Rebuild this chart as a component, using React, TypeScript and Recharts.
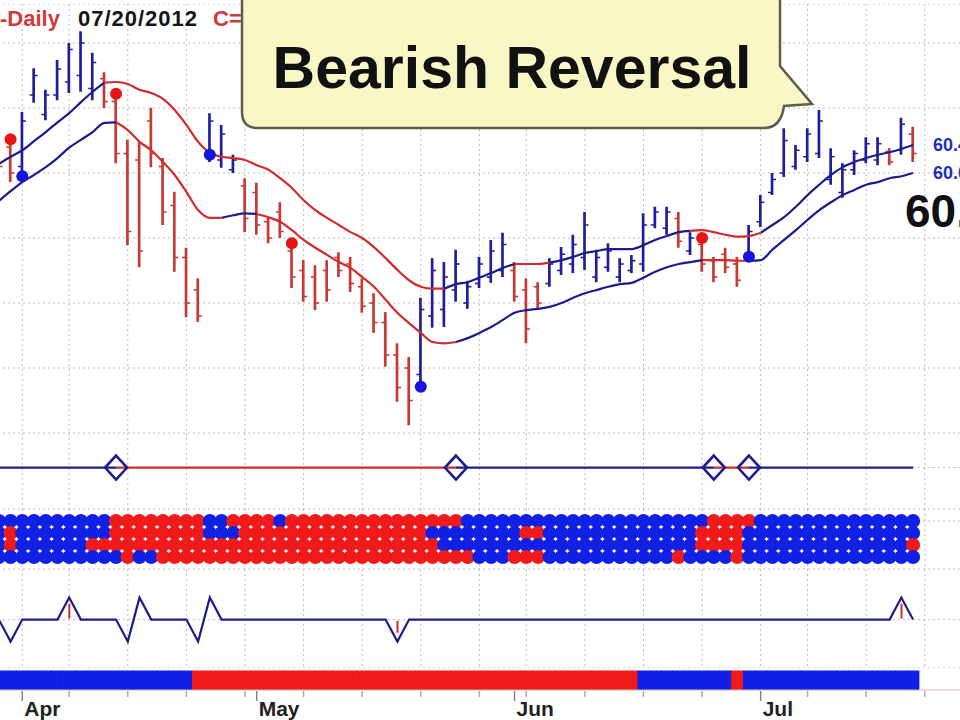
import React from 'react';
import { ComposedChart, Bar, Line, Scatter, XAxis, YAxis, CartesianGrid, Cell, ReferenceDot } from 'recharts';

const FONT = '"Liberation Sans", Arial, sans-serif';
const NAVY = '#1c1c8e';
const LINE_RED = '#d42a2a';
const BAR_BLUE = '#1f1f9c';
const BAR_RED = '#c63a36';
const DOT_RED = '#e81414';
const DOT_BLUE = '#1414e0';
const MAT_BLUE = '#1020e4';
const MAT_RED = '#f01a1a';
const GRID = '#bcbcbc';

// ---- data (trading days Mar 29 .. Jul 20, 2012; index 0..78) ----
const highs = [60.81,60.51,60.94,61.61,61.28,61.74,62.00,62.18,61.85,61.55,
  61.20,60.51,60.48,61.00,60.23,59.71,58.85,58.38,60.92,60.74,
  60.28,59.92,59.85,59.32,59.55,58.92,58.66,58.58,58.66,58.78,
  58.71,58.38,58.15,57.86,57.38,57.17,58.08,58.69,58.63,58.82,
  58.34,58.71,58.97,59.08,58.63,58.38,58.32,58.69,58.86,59.05,
  59.40,58.82,58.92,58.69,58.74,59.38,59.48,59.48,59.40,59.09,
  59.00,58.71,58.85,58.71,59.20,59.66,60.00,60.69,60.43,60.69,
  60.97,60.38,60.15,60.35,60.55,60.55,60.38,60.85,60.71];
const lows = [59.97,59.86,59.94,61.08,60.81,61.12,61.23,61.25,61.12,61.00,
  60.15,58.89,58.55,60.09,59.20,58.48,57.78,57.71,60.17,60.08,
  60.00,59.09,59.05,58.92,59.00,58.23,58.02,57.89,58.02,58.40,
  58.17,57.85,57.54,57.02,56.48,56.12,56.69,57.62,57.63,58.02,
  57.91,58.23,58.31,58.40,58.02,57.38,57.92,58.25,58.43,58.46,
  58.51,58.32,58.48,58.32,58.46,58.48,59.15,59.05,58.85,58.74,
  58.48,58.32,58.46,58.25,58.63,59.17,59.66,59.94,60.05,60.17,
  60.23,59.82,59.62,59.97,60.15,60.12,60.12,60.28,60.17];
const opens = [60.6,60.4,60.1,61.2,60.9,61.2,61.4,61.5,61.3,61.45,
  61.1,60.3,60.2,60.8,60.1,59.5,58.7,58.2,60.3,60.2,
  60.05,59.8,59.7,59.25,59.4,58.8,58.5,58.4,58.5,58.7,
  58.6,58.25,58.0,57.7,57.2,57.0,56.9,57.8,57.9,58.2,
  58.0,58.3,58.4,58.5,58.5,58.2,58.25,58.3,58.5,58.6,
  58.7,58.4,58.55,58.4,58.5,58.6,59.2,59.15,59.3,58.8,
  58.9,58.65,58.75,58.6,58.7,59.25,59.7,60.0,60.1,60.25,
  60.3,59.9,59.7,60.05,60.2,60.2,60.33,60.35,60.6];
const closes = [60.1,60.0,60.8,61.5,61.2,61.6,61.9,62.0,61.7,61.1,
  60.3,59.1,58.8,60.3,59.4,58.7,58.0,57.8,60.8,60.6,
  60.2,59.3,59.2,59.0,59.1,58.4,58.1,58.0,58.2,58.5,
  58.3,57.95,57.7,57.2,56.7,56.5,57.9,58.5,58.4,58.6,
  58.25,58.6,58.8,58.9,58.1,57.6,58.0,58.6,58.75,58.9,
  59.2,58.7,58.8,58.6,58.65,59.2,59.4,59.4,58.95,59.0,
  58.6,58.4,58.55,58.35,59.1,59.55,59.9,60.5,60.35,60.6,
  60.8,60.25,60.05,60.3,60.45,60.45,60.17,60.75,60.3];
const barDir = 'RRBBBBBBBRRRRRRRRRBBBRRRRRRRRRRRRRRRBBBBBBBBRRRBBBBBBBBBBBRBRRRRBBBBBBBBBBBBRBR';

const upper = [60.14,60.25,60.35,60.49,60.63,60.78,60.92,61.09,61.25,61.39,
  61.40,61.37,61.28,61.23,61.14,60.97,60.74,60.48,60.31,60.25,
  60.23,60.20,60.12,60.05,59.92,59.77,59.58,59.43,59.31,59.20,
  59.09,59.00,58.86,58.69,58.51,58.35,58.25,58.22,58.22,58.29,
  58.32,58.39,58.46,58.54,58.60,58.60,58.60,58.62,58.66,58.71,
  58.77,58.80,58.83,58.83,58.83,58.89,58.97,59.03,59.09,59.11,
  59.12,59.09,59.05,59.02,59.03,59.08,59.20,59.32,59.48,59.66,
  59.82,59.97,60.09,60.17,60.23,60.28,60.32,60.37,60.43];
const lower = [59.57,59.72,59.86,59.97,60.09,60.23,60.39,60.51,60.63,60.77,
  60.78,60.66,60.48,60.35,60.17,59.97,59.71,59.43,59.31,59.31,
  59.35,59.38,59.37,59.32,59.25,59.12,58.97,58.85,58.74,58.63,
  58.54,58.40,58.25,58.05,57.85,57.69,57.54,57.40,57.38,57.40,
  57.46,57.54,57.63,57.74,57.85,57.89,57.91,57.94,58.00,58.08,
  58.15,58.20,58.25,58.29,58.31,58.39,58.48,58.55,58.60,58.63,
  58.66,58.66,58.66,58.65,58.65,58.66,58.82,58.97,59.12,59.28,
  59.43,59.55,59.66,59.74,59.82,59.86,59.92,59.95,60.00];
const upperRed = [[9, 38], [44, 47], [59, 65]];
const lowerRed = [[10, 19], [22, 39], [60, 64]];

const redDots = [{ i: 1, v: 60.52 }, { i: 10, v: 61.22 }, { i: 25, v: 58.92 }, { i: 60, v: 59.0 }];
const blueDots = [{ i: 2, v: 59.95 }, { i: 18, v: 60.28 }, { i: 36, v: 56.71 }, { i: 64, v: 58.71 }];

const signalRed = [[10, 39], [61, 64]];
const signalDiamonds = [10, 39, 61, 64];

const matrixRows = [
  'BBBBBBBBBBRRRRRRRRBBRRRRBRRRRRRRRRRRRRRRBBBBBBBBBBBBBBBBBBBBBRRRRBBBBBBBBBBBBBB',
  'BRBBBBBBBBRRRRRRRRBBBRRRRRRRRRRRRRRRRBBBBBBBBRRBBBBBBBBBBBBBRRRRBBBBBBBBBBBBBBB',
  'BRBBBBBBRRRRRRRRRRRRRRRRRRRRRRRRRRRRRRBBBBBBBBBBBBBBBBBBBBBBRRRRBBBBBBBBBBBBBBR',
  'BBBBBBBBBBBRBBRRRRRRRRRRRRRRRRRRRRRRRRRRRBBBRRRBBBBBBBBBBBRBBBBRBBBBBBBBBBBBBBB',
];

const zigzag = [0,-1,0,0,0,0,1,0,0,0, 0,-1,1,0,0,0,0,-1,1,0,
  0,0,0,0,0,0,0,0,0,0, 0,0,0,0,-1,0,0,0,0,0,
  0,0,0,0,0,0,0,0,0,0, 0,0,0,0,0,0,0,0,0,0,
  0,0,0,0,0,0,0,0,0,0, 0,0,0,0,0,0,0,1,0];
const zigMarks = [6, 34, 77];

const trendBand = 'BBBBBBBBBBBBBBBBBRRRRRRRRRRRRRRRRRRRRRRRRRRRRRRRRRRRRRRBBBBBBBBRBBBBBBBBBBBBBBB';

const weekTicks = [2, 6, 11, 16, 21, 26, 31, 36, 41, 45, 50, 55, 60, 65, 69, 74, 79];
const monthTicks = [{ i: 2, label: 'Apr' }, { i: 22, label: 'May' }, { i: 44, label: 'Jun' }, { i: 65, label: 'Jul' }];
const axisTicks = [2, 6, 11, 16, 21, 22, 26, 31, 36, 41, 44, 45, 50, 55, 60, 65, 69, 74, 79];
const priceTicks = [56, 57, 58, 59, 60, 61, 62];

// ---- derived tables ----
const inRange = (i: number, r: number[][]) => r.some(([a, b]) => i >= a && i <= b);
const inside = (i: number, r: number[][]) => r.some(([a, b]) => i > a && i < b);

const mainData = highs.map((h, i) => ({
  i,
  hl: [lows[i], h],
  high: h, low: lows[i], open: opens[i], close: closes[i], dir: barDir[i],
  upR: inRange(i, upperRed) ? upper[i] : null,
  upB: inside(i, upperRed) ? null : upper[i],
  loR: inRange(i, lowerRed) ? lower[i] : null,
  loB: inside(i, lowerRed) ? null : lower[i],
}));

const signalData = highs.map((_, i) => ({
  i,
  sR: inRange(i, signalRed) ? 0 : null,
  sB: inside(i, signalRed) ? null : 0,
}));
const diamondData = signalDiamonds.map((i) => ({ i, v: 0 }));

const matrixData = matrixRows.map((row, r) => row.split('').map((s, i) => ({ i, v: 4 - r, s })));

const zigData = zigzag.map((z, i) => ({
  i, z,
  mark: zigMarks.includes(i) ? (z > 0 ? [0.05, 0.72] : [-0.6, -0.05]) : null,
}));

const bandData = trendBand.split('').map((s, i) => ({ i, one: 1, s }));

// ---- geometry ----
const X0 = -7.3;
const W = 972.8;
const M = { top: 0, right: 0, bottom: 0, left: 0 };
const XDOM: [number, number] = [-0.5, 82.5];

const OhlcShape = (props: any) => {
  const { x, y, width, height, index } = props;
  const d = props.payload && props.payload.high !== undefined ? props.payload : mainData[index];
  if (!d || x == null || y == null) return null;
  const cx = x + width / 2;
  const top = Math.min(y, y + height);
  const h = Math.abs(height);
  const span = d.high - d.low;
  const yO = top + ((d.high - d.open) / span) * h;
  const yC = top + ((d.high - d.close) / span) * h;
  const col = d.dir === 'R' ? BAR_RED : BAR_BLUE;
  return (
    <g>
      <line x1={cx} x2={cx} y1={top} y2={top + h} stroke={col} strokeWidth={2.7} />
      <line x1={cx - 4} x2={cx} y1={yO} y2={yO} stroke={col} strokeWidth={1.6} />
      <line x1={cx} x2={cx + 4} y1={yC} y2={yC} stroke={col} strokeWidth={1.6} />
    </g>
  );
};

const dotShape = (fill: string) => (p: any) => <circle cx={p.cx} cy={p.cy} r={6} fill={fill} />;
const diamondShape = (p: any) => (
  <polygon
    points={`${p.cx},${p.cy - 12} ${p.cx + 11},${p.cy} ${p.cx},${p.cy + 12} ${p.cx - 11},${p.cy}`}
    fill="none" stroke={NAVY} strokeWidth={2.6} />
);
const matrixShape = (p: any) => (
  <circle cx={p.cx} cy={p.cy} r={7.1} fill={p.payload && p.payload.s === 'R' ? MAT_RED : MAT_BLUE} />
);
const valueLabel = (txt: string) => (p: any) => (
  <text x={p.cx} y={p.cy} dy={6} fontSize={18} fontWeight="bold" fill="#2030b8" fontFamily={FONT}>{txt}</text>
);

const AxisTick = (props: any) => {
  const { x, y, payload } = props;
  const m = monthTicks.find((t) => t.i === payload.value);
  return (
    <g>
      <line x1={x} x2={x} y1={y + 1} y2={y + (m ? 11 : 7)} stroke={m ? '#8f8080' : '#b4a8a8'} strokeWidth={1.5} />
      {m && (
        <text x={x + 2} y={y + 26} fontSize={21} fontWeight="bold" fill="#222" fontFamily={FONT}>{m.label}</text>
      )}
    </g>
  );
};

const pos = (top: number, height: number): React.CSSProperties => ({ position: 'absolute', left: X0, top, width: W, height });

export default function App() {
  return (
    <div style={{ position: 'absolute', left: 0, top: 0, width: 960, height: 720, overflow: 'hidden', background: '#fff', fontFamily: FONT }}>
      {/* price panel */}
      <div style={pos(4, 429)}>
        <ComposedChart width={W} height={429} data={mainData} margin={M}>
          <CartesianGrid stroke={GRID} strokeDasharray="2 3" />
          <XAxis type="number" dataKey="i" domain={XDOM} ticks={weekTicks} hide allowDataOverflow />
          <YAxis type="number" domain={[56, 62.6]} ticks={priceTicks} hide allowDataOverflow />
          <Bar dataKey="hl" barSize={3} shape={OhlcShape} isAnimationActive={false} />
          <Line type="monotone" dataKey="upB" stroke={NAVY} strokeWidth={2.2} dot={false} isAnimationActive={false} />
          <Line type="monotone" dataKey="upR" stroke={LINE_RED} strokeWidth={2.2} dot={false} isAnimationActive={false} />
          <Line type="monotone" dataKey="loB" stroke={NAVY} strokeWidth={2.2} dot={false} isAnimationActive={false} />
          <Line type="monotone" dataKey="loR" stroke={LINE_RED} strokeWidth={2.2} dot={false} isAnimationActive={false} />
          <Scatter data={redDots} dataKey="v" shape={dotShape(DOT_RED)} isAnimationActive={false} />
          <Scatter data={blueDots} dataKey="v" shape={dotShape(DOT_BLUE)} isAnimationActive={false} />
          <ReferenceDot x={79.7} y={upper[upper.length - 1]} r={1} ifOverflow="visible" shape={valueLabel(upper[upper.length - 1].toFixed(2))} />
          <ReferenceDot x={79.7} y={lower[lower.length - 1]} r={1} ifOverflow="visible" shape={valueLabel(lower[lower.length - 1].toFixed(2))} />
        </ComposedChart>
      </div>

      {/* signal line panel */}
      <div style={pos(433, 76)}>
        <ComposedChart width={W} height={76} data={signalData} margin={M}>
          <CartesianGrid stroke={GRID} strokeDasharray="2 3" />
          <XAxis type="number" dataKey="i" domain={XDOM} ticks={weekTicks} hide allowDataOverflow />
          <YAxis type="number" domain={[-1.2, 1]} ticks={[0]} hide allowDataOverflow />
          <Line type="linear" dataKey="sB" stroke={NAVY} strokeWidth={2.2} dot={false} isAnimationActive={false} />
          <Line type="linear" dataKey="sR" stroke={LINE_RED} strokeWidth={2.2} dot={false} isAnimationActive={false} />
          <Scatter data={diamondData} dataKey="v" shape={diamondShape} isAnimationActive={false} />
        </ComposedChart>
      </div>

      {/* dot matrix panel */}
      <div style={pos(509, 60)}>
        <ComposedChart width={W} height={60} data={mainData} margin={M}>
          <CartesianGrid stroke={GRID} strokeDasharray="2 3" />
          <XAxis type="number" dataKey="i" domain={XDOM} ticks={weekTicks} hide allowDataOverflow />
          <YAxis type="number" domain={[0, 5]} ticks={[4]} hide allowDataOverflow />
          {matrixData.map((rows, r) => (
            <Scatter key={r} data={rows} dataKey="v" shape={matrixShape} isAnimationActive={false} />
          ))}
        </ComposedChart>
      </div>

      {/* zigzag panel */}
      <div style={pos(569, 99)}>
        <ComposedChart width={W} height={99} data={zigData} margin={M}>
          <CartesianGrid stroke={GRID} strokeDasharray="2 3" />
          <XAxis type="number" dataKey="i" domain={XDOM} ticks={weekTicks} hide allowDataOverflow />
          <YAxis type="number" domain={[-2.2, 2.3]} ticks={[0]} hide allowDataOverflow />
          <Bar dataKey="mark" barSize={2} fill={LINE_RED} isAnimationActive={false} />
          <Line type="linear" dataKey="z" stroke={NAVY} strokeWidth={2.2} dot={false} isAnimationActive={false} />
        </ComposedChart>
      </div>

      {/* trend band + date axis */}
      <div style={pos(668, 52)}>
        <ComposedChart width={W} height={52} data={bandData} margin={M}>
          <XAxis type="number" dataKey="i" domain={XDOM} ticks={axisTicks} interval={0} height={30}
            tickSize={0} tickMargin={0} tickLine={false} axisLine={{ stroke: '#d4b4b4' }} tick={<AxisTick />} allowDataOverflow />
          <YAxis type="number" domain={[0, 1.2]} hide allowDataOverflow />
          <Bar dataKey="one" barSize={10} isAnimationActive={false}>
            {bandData.map((d) => {
              const c = d.s === 'R' ? MAT_RED : MAT_BLUE;
              return <Cell key={d.i} fill={c} stroke={c} strokeWidth={2.4} />;
            })}
          </Bar>
        </ComposedChart>
      </div>

      {/* header + callout overlay */}
      <svg width={960} height={720} style={{ position: 'absolute', left: 0, top: 0, pointerEvents: 'none' }}>
        <text x={0} y={26} fontSize={22} fontWeight="bold" fill="#d23a3a" fontFamily={FONT}>-Daily</text>
        <text x={78} y={26} fontSize={22} fontWeight="bold" fill="#151515" fontFamily={FONT} textLength={119} lengthAdjust="spacing">07/20/2012</text>
        <text x={213} y={26} fontSize={22} fontWeight="bold" fill="#d23a3a" fontFamily={FONT}>C=</text>
        <path
          d="M 258 -20 H 764 Q 780 -20 780 -4 V 66 L 812 104 L 784 106 Q 781 128 764 128 H 258 Q 242 128 242 112 V -4 Q 242 -20 258 -20 Z"
          fill="#faf7c6" stroke="#5e5e4a" strokeWidth={2.5} />
        <text x={512} y={88} fontSize={59} fontWeight="bold" fill="#111" textAnchor="middle" fontFamily={FONT}>Bearish Reversal</text>
        <text x={905} y={227} fontSize={46} fontWeight="bold" fill="#111" fontFamily={FONT}>60.30</text>
      </svg>
    </div>
  );
}
